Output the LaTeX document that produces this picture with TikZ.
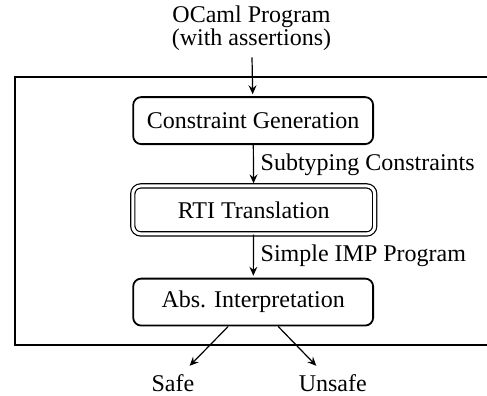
\documentclass[tikz,border=0pt]{standalone}
\usepackage{fontspec}
\setmainfont{Liberation Serif}
\usepackage{tikz}
\usetikzlibrary{arrows.meta,positioning}

\begin{document}
\begin{tikzpicture}[
    stage/.style={draw, line width=0.9pt, rounded corners=4pt, minimum width=120pt, minimum height=23.5pt},
    flow/.style={-{Stealth[length=4.5pt,width=4pt,inset=1.6pt]}, line width=0.6pt, shorten >=1pt},
    every node/.style={font=\fontsize{12}{11.5}\selectfont}
  ]
  % Picture size
  \clip (0,0) rectangle (8.56,-6.96);

  % Input
  \node[align=center] (prog) at (4.42,-0.49) {OCaml Program\\(with assertions)};

  % Outer frame (runs off on the right)
  \draw[line width=1.1pt] (0.26,-1.35) rectangle (8.9,-6.06);

  % Pipeline stages
  \node[stage] (gen) at (4.45,-2.12) {Constraint Generation};
  \node[stage, double, line width=0.6pt, double distance=1.5pt, minimum width=121pt, minimum height=24pt] (rti) at (4.46,-3.69) {RTI Translation};
  \node[stage] (abs) at (4.45,-5.31) {Abs. Interpretation};

  % Results
  \node (safe) at (3.04,-6.73) {Safe};
  \node (unsafe) at (5.85,-6.73) {Unsafe};

  % Arrows
  \draw[flow] (prog) -- (gen);
  \draw[flow] (gen) -- (rti) node[midway, right] {Subtyping Constraints};
  \draw[flow] (rti) -- (abs) node[midway, right] {Simple IMP Program};
  \draw[flow] ([xshift=-0.44cm]abs.south) -- (safe);
  \draw[flow] ([xshift=0.44cm]abs.south) -- (unsafe);
\end{tikzpicture}
\end{document}
